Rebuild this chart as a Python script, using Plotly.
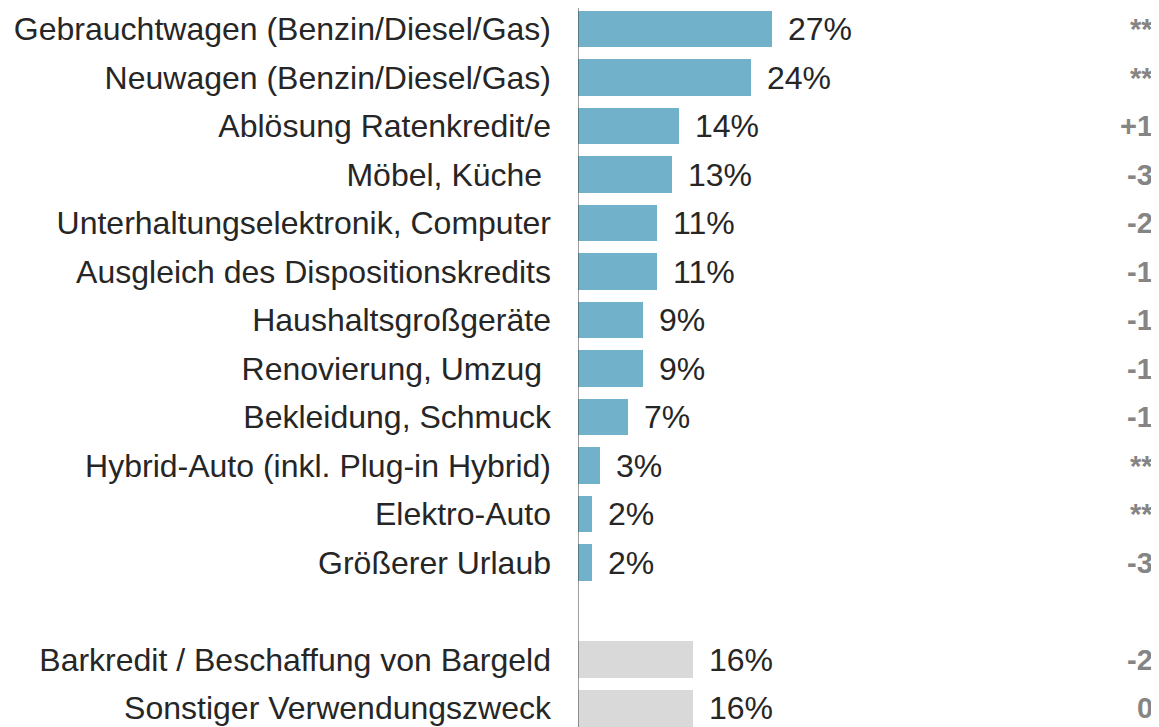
import plotly.graph_objects as go

categories = [
    'Gebrauchtwagen (Benzin/Diesel/Gas)',
    'Neuwagen (Benzin/Diesel/Gas)',
    'Ablösung Ratenkredit/e',
    'Möbel, Küche ',
    'Unterhaltungselektronik, Computer',
    'Ausgleich des Dispositionskredits',
    'Haushaltsgroßgeräte',
    'Renovierung, Umzug ',
    'Bekleidung, Schmuck',
    'Hybrid-Auto (inkl. Plug-in Hybrid)',
    'Elektro-Auto',
    'Größerer Urlaub',
    'Barkredit / Beschaffung von Bargeld',
    'Sonstiger Verwendungszweck',
]
values = [27, 24, 14, 13, 11, 11, 9, 9, 7, 3, 2, 2, 16, 16]
changes = ['**', '**', '+1', '-3', '-2', '-1', '-1', '-1', '-1', '**', '**', '-3', '-2', '0']
# slot positions: one empty slot before the last two rows
positions = [0, 1, 2, 3, 4, 5, 6, 7, 8, 9, 10, 11, 13, 14]

blue = '#71B1CA'
grey = '#D9D9D9'
colors = [blue] * 12 + [grey] * 2

FONT = 'Liberation Sans, Arial'

fig = go.Figure()

fig.add_trace(go.Bar(
    x=values,
    y=positions,
    orientation='h',
    width=0.76,
    marker=dict(color=colors, line=dict(width=0)),
    hoverinfo='skip',
))

# value labels right of each bar
for pos, val in zip(positions, values):
    fig.add_annotation(
        x=val, y=pos, xref='x', yref='y',
        text=f'{val}%', showarrow=False,
        xanchor='left', xshift=14,
        font=dict(family=FONT, size=32, color='#262626'),
    )

# change column at right edge
for pos, ch in zip(positions, changes):
    fig.add_annotation(
        x=1, y=pos, xref='paper', yref='y',
        text=f'<b>{ch}</b>', showarrow=False,
        xanchor='right',
        font=dict(family=FONT, size=29, color='#858585'),
    )

# vertical axis line
fig.add_shape(
    type='line', xref='x', yref='y',
    x0=0, x1=0, y0=-0.45, y1=14.5,
    line=dict(color='#404040', width=1),
)

fig.update_layout(
    width=1151, height=719,
    margin=dict(l=570, r=4, t=0, b=0),
    paper_bgcolor='white', plot_bgcolor='white',
    showlegend=False,
    bargap=0,
    xaxis=dict(range=[0, 80.1], visible=False, fixedrange=True),
    yaxis=dict(
        range=[14.39, -0.433],
        tickvals=positions,
        ticktext=categories,
        showgrid=False, zeroline=False, showline=False,
        ticks='', ticklabelstandoff=26,
        tickfont=dict(family=FONT, size=32, color='#262626'),
    ),
)

fig.write_html('out.html')
